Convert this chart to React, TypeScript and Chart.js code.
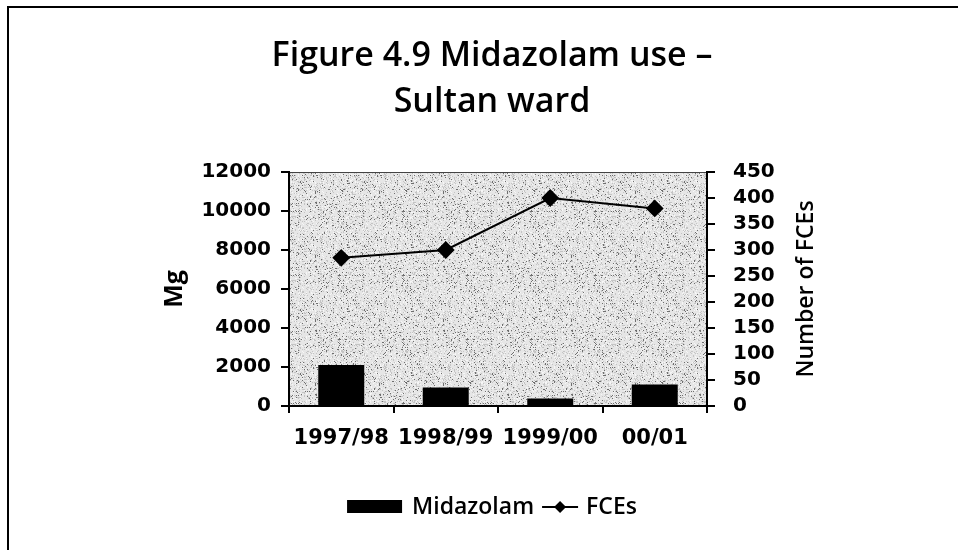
import React, { useEffect, useRef } from 'react';
import { Chart, registerables } from 'chart.js';

Chart.register(...registerables);

const categories = ['1997/98', '1998/99', '1999/00', '00/01'];
const midazolamMg = [2100, 950, 380, 1100];
const fceCounts = [285, 300, 400, 380];
const titleLines = ['Figure 4.9 Midazolam use –', 'Sultan ward'];
const leftAxisTitle = 'Mg';
const rightAxisTitle = 'Number of FCEs';
const seriesNames = ['Midazolam', 'FCEs'];

const W = 958;
const H = 550;
const LABEL_FONT = '600 23px "Open Sans"';

function makePattern(): CanvasPattern | string {
  const size = 64;
  const c = document.createElement('canvas');
  c.width = size;
  c.height = size;
  const g = c.getContext('2d');
  if (!g) return '#d8d8d8';
  g.fillStyle = '#e6e6e6';
  g.fillRect(0, 0, size, size);
  // deterministic stipple texture (styling only)
  let s = 12345;
  const next = () => {
    s = (s * 1103515245 + 12345) & 0x7fffffff;
    return s / 0x7fffffff;
  };
  for (let y = 0; y < size; y++) {
    for (let x = 0; x < size; x++) {
      const r = next();
      if (r < 0.06) {
        g.fillStyle = '#6e6e6e';
        g.fillRect(x, y, 1, 1);
      } else if (r < 0.2) {
        g.fillStyle = '#c4c4c4';
        g.fillRect(x, y, 1, 1);
      } else if (r > 0.9) {
        g.fillStyle = '#f6f6f6';
        g.fillRect(x, y, 1, 1);
      }
    }
  }
  return g.createPattern(c, 'repeat') || '#d8d8d8';
}

export default function App() {
  const ref = useRef<HTMLCanvasElement | null>(null);

  useEffect(() => {
    const canvas = ref.current;
    if (!canvas) return;
    const pattern = makePattern();

    const decor = {
      id: 'decor',
      beforeDraw(chart: any) {
        const ctx = chart.ctx;
        const { left, top, right, bottom } = chart.chartArea;
        ctx.save();
        ctx.fillStyle = '#ffffff';
        ctx.fillRect(0, 0, chart.width, chart.height);
        ctx.strokeStyle = '#000';
        ctx.lineWidth = 2;
        ctx.beginPath();
        ctx.moveTo(8, chart.height);
        ctx.lineTo(8, 7);
        ctx.lineTo(chart.width, 7);
        ctx.stroke();
        ctx.fillStyle = pattern;
        ctx.fillRect(left, top, right - left, bottom - top);
        ctx.strokeStyle = '#444';
        ctx.lineWidth = 1;
        ctx.beginPath();
        ctx.moveTo(left, top + 0.5);
        ctx.lineTo(right, top + 0.5);
        ctx.stroke();
        ctx.restore();
      },
      afterDraw(chart: any) {
        const ctx = chart.ctx;
        const { top, bottom } = chart.chartArea;
        const mid = (top + bottom) / 2;
        ctx.save();
        ctx.fillStyle = '#000';
        ctx.textAlign = 'center';
        ctx.textBaseline = 'middle';

        // title
        ctx.font = '600 34px "Open Sans"';
        ctx.fillText(titleLines[0], 492, 56);
        ctx.fillText(titleLines[1], 492, 102);

        // left axis title
        ctx.save();
        ctx.font = '700 25px "Open Sans"';
        ctx.translate(175, mid);
        ctx.rotate(-Math.PI / 2);
        ctx.fillText(leftAxisTitle, 0, 0);
        ctx.restore();
        // right axis title
        ctx.save();
        ctx.font = LABEL_FONT;
        ctx.translate(806, mid);
        ctx.rotate(-Math.PI / 2);
        ctx.fillText(rightAxisTitle, 0, 0);
        ctx.restore();

        // legend
        const ds = chart.data.datasets;
        ctx.font = LABEL_FONT;
        const t1 = ds[0].label;
        const t2 = ds[1].label;
        const w1 = ctx.measureText(t1).width;
        const w2 = ctx.measureText(t2).width;
        const swatchW = 55;
        const glyphW = 36;
        const total = swatchW + 10 + w1 + 8 + glyphW + 8 + w2;
        const ly = 507;
        let x = 492 - total / 2;
        ctx.fillStyle = ds[0].backgroundColor;
        ctx.fillRect(x, ly - 7, swatchW, 13);
        x += swatchW + 10;
        ctx.fillStyle = '#000';
        ctx.textAlign = 'left';
        ctx.fillText(t1, x, ly);
        x += w1 + 8;
        ctx.strokeStyle = ds[1].borderColor;
        ctx.lineWidth = 2;
        ctx.beginPath();
        ctx.moveTo(x, ly);
        ctx.lineTo(x + glyphW, ly);
        ctx.stroke();
        const cx = x + glyphW / 2;
        ctx.beginPath();
        ctx.moveTo(cx, ly - 6);
        ctx.lineTo(cx + 6, ly);
        ctx.lineTo(cx, ly + 6);
        ctx.lineTo(cx - 6, ly);
        ctx.closePath();
        ctx.fillStyle = '#000';
        ctx.fill();
        x += glyphW + 8;
        ctx.fillText(t2, x, ly);
        ctx.restore();
      },
    };

    const tickFont = { family: '"DejaVu Sans"', weight: 'bold' as const, size: 20 };
    const plain = (v: any) => String(v);
    const axisGrid = {
      display: true,
      drawOnChartArea: false,
      drawTicks: true,
      tickLength: 8,
      color: '#000',
      lineWidth: 2,
    };

    const chart = new Chart(canvas, {
      type: 'bar',
      data: {
        labels: categories,
        datasets: [
          {
            type: 'bar',
            label: seriesNames[0],
            data: midazolamMg,
            backgroundColor: '#000',
            borderWidth: 0,
            yAxisID: 'y',
            barPercentage: 0.44,
            categoryPercentage: 1,
            order: 1,
          },
          {
            type: 'line',
            label: seriesNames[1],
            data: fceCounts,
            borderColor: '#000',
            backgroundColor: '#000',
            borderWidth: 2,
            pointStyle: 'rectRot',
            pointRadius: 7.5,
            pointBackgroundColor: '#000',
            pointBorderColor: '#000',
            yAxisID: 'y1',
            order: 0,
          } as any,
        ],
      },
      options: {
        responsive: false,
        animation: false,
        layout: { padding: { left: 0, right: 0, top: 172, bottom: 0 } },
        plugins: {
          legend: { display: false },
          tooltip: { enabled: false },
          title: { display: false },
        },
        scales: {
          x: {
            type: 'category',
            offset: true,
            grid: { ...axisGrid, tickLength: 7, offset: true },
            border: { display: true, color: '#000', width: 2 },
            ticks: { color: '#000', font: { ...tickFont, size: 21 }, padding: 13, maxRotation: 0, autoSkip: false },
            afterFit(s: any) {
              s.height = H - 406;
            },
          },
          y: {
            position: 'left',
            min: 0,
            max: 12000,
            ticks: { stepSize: 2000, color: '#000', font: tickFont, padding: 10, callback: plain, autoSkip: false },
            grid: axisGrid,
            border: { display: true, color: '#000', width: 2 },
            afterFit(s: any) {
              s.width = 289;
            },
          },
          y1: {
            position: 'right',
            min: 0,
            max: 450,
            ticks: { stepSize: 50, color: '#000', font: tickFont, padding: 18, callback: plain, autoSkip: false },
            grid: axisGrid,
            border: { display: true, color: '#000', width: 2 },
            afterFit(s: any) {
              s.width = W - 707;
            },
          },
        },
      } as any,
      plugins: [decor],
    });

    return () => chart.destroy();
  }, []);

  return (
    <div style={{ position: 'fixed', left: 0, top: 0, width: W, height: H, background: '#fff' }}>
      <canvas ref={ref} width={W} height={H} style={{ display: 'block', width: W, height: H }} />
    </div>
  );
}
